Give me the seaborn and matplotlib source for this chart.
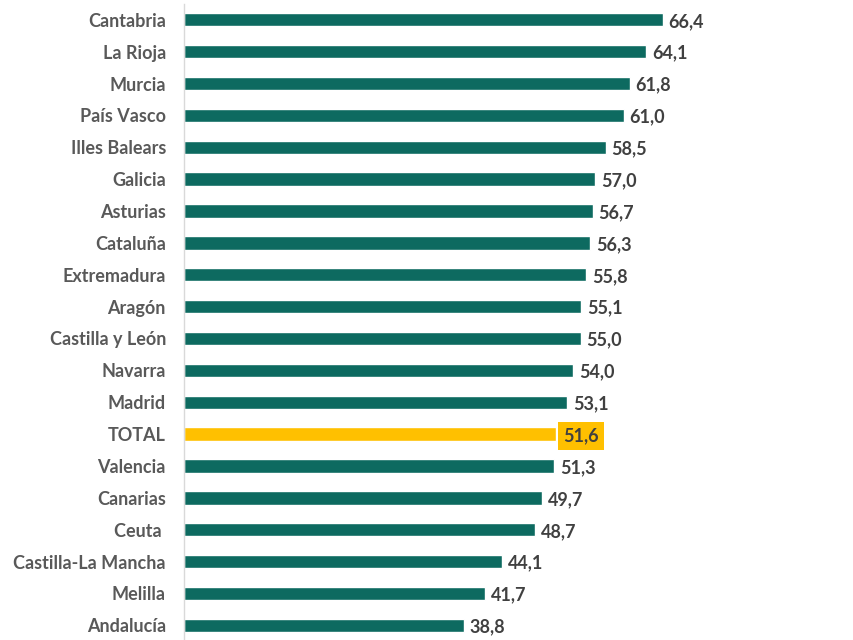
#!/usr/bin/env python3
import numpy as np
import pandas as pd
import matplotlib
matplotlib.use('Agg')
import matplotlib.pyplot as plt
import seaborn as sns

regions = [
    'Cantabria', 'La Rioja', 'Murcia', 'País Vasco', 'Illes Balears',
    'Galicia', 'Asturias', 'Cataluña', 'Extremadura', 'Aragón',
    'Castilla y León', 'Navarra', 'Madrid', 'TOTAL', 'Valencia',
    'Canarias', 'Ceuta ', 'Castilla-La Mancha', 'Melilla', 'Andalucía',
]
values = [
    66.4, 64.1, 61.8, 61.0, 58.5,
    57.0, 56.7, 56.3, 55.8, 55.1,
    55.0, 54.0, 53.1, 51.6, 51.3,
    49.7, 48.7, 44.1, 41.7, 38.8,
]
highlight = 'TOTAL'

teal = '#0d6a60'
gold = '#ffc000'
text_gray = '#595959'

sns.set_style('white')
plt.rcParams['font.family'] = ['Lato', 'DejaVu Sans']

df = pd.DataFrame({'region': regions, 'value': values})
palette = {r: (gold if r == highlight else teal) for r in regions}

fig = plt.figure(figsize=(8.54, 6.4), dpi=100)
ax = fig.add_axes([184 / 854, -0.002, 0.76, 0.996])

sns.barplot(data=df, y='region', x='value', hue='region', palette=palette,
            order=regions, width=0.42, legend=False, ax=ax, saturation=1)

ax.set_xlim(0, 90)
ax.set_ylim(len(regions) - 0.5, -0.5)
ax.set_xlabel('')
ax.set_ylabel('')
ax.set_xticks([])
ax.tick_params(axis='y', length=0, pad=13, labelsize=13, labelcolor=text_gray)
for lbl in ax.get_yticklabels():
    lbl.set_fontweight('bold')

for s in ['top', 'right', 'bottom']:
    ax.spines[s].set_visible(False)
ax.spines['left'].set_color('#d9d9d9')
ax.spines['left'].set_linewidth(1)

for i, (r, v) in enumerate(zip(regions, values)):
    txt = f'{v:.1f}'.replace('.', ',')
    if r == highlight:
        ax.text(v + 1.0, i + 0.05, txt, va='center', ha='left', fontsize=13,
                fontweight='bold', color='#404040',
                bbox=dict(boxstyle='square,pad=0.3', fc=gold, ec='none'))
    else:
        ax.text(v + 0.8, i + 0.05, txt, va='center', ha='left', fontsize=13,
                fontweight='bold', color='#404040')

fig.savefig('out.png', dpi=100)
